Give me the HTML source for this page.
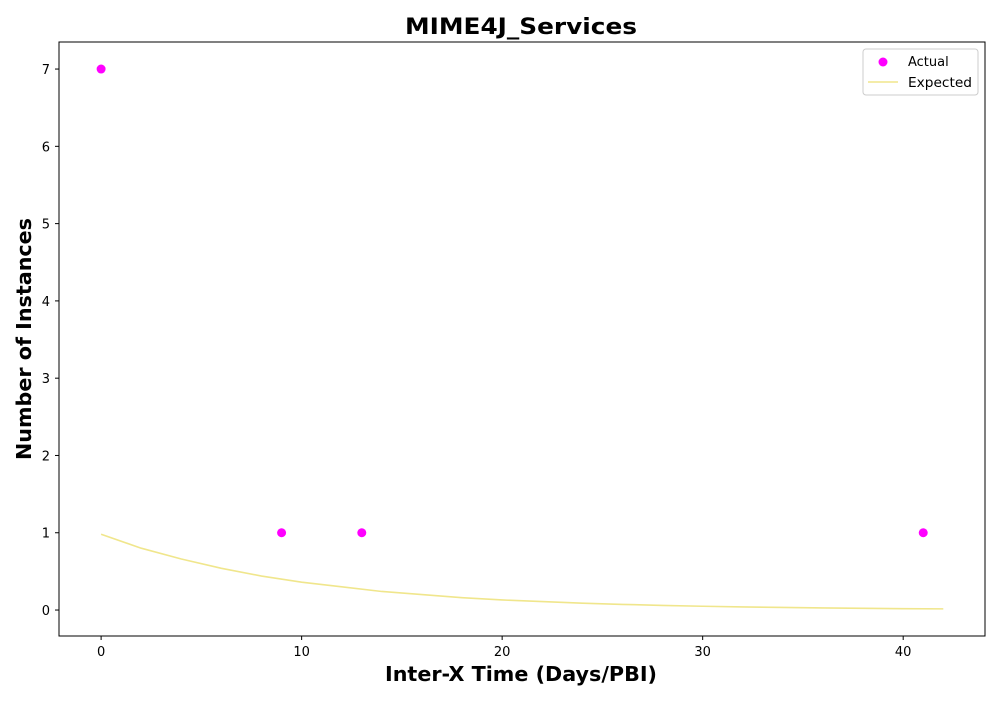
<!DOCTYPE html>
<html><head><meta charset="utf-8"><style>
body{margin:0;background:#fff;font-family:"DejaVu Sans","Liberation Sans",sans-serif;}
</style></head><body>
<svg id="chart" width="1000" height="700" xmlns="http://www.w3.org/2000/svg" font-family="DejaVu Sans, Liberation Sans, sans-serif"></svg>
<script>
const actualX=[0,9,13,41];
const actualY=[7,1,1,1];
const expectedX=[0,2,4,6,8,10,12,14,16,18,20,22,24,26,28,30,32,34,36,38,40,42];
const expectedY=[0.98,0.80,0.66,0.54,0.44,0.36,0.30,0.24,0.20,0.16,0.13,0.11,0.089,0.073,0.06,0.049,0.04,0.033,0.027,0.022,0.018,0.015];
const xTicks=[0,10,20,30,40];
const yTicks=[0,1,2,3,4,5,6,7];
const L=59,R=985,T=42,B=636;
const xMin=-2.1,xMax=44.08,yMin=-0.336,yMax=7.35;
const sx=v=>L+(v-xMin)/(xMax-xMin)*(R-L);
const sy=v=>B-(v-yMin)/(yMax-yMin)*(B-T);
const svg=document.getElementById('chart');
const NS='http://www.w3.org/2000/svg';
function mk(tag,attrs,parent){const e=document.createElementNS(NS,tag);for(const k in attrs)e.setAttribute(k,attrs[k]);(parent||svg).appendChild(e);return e;}
let t=mk('text',{x:521,y:34,'text-anchor':'middle','font-size':22,'font-weight':'bold',textLength:232,lengthAdjust:'spacingAndGlyphs'});t.textContent='MIME4J_Services';


t=mk('text',{x:521,y:681,'text-anchor':'middle','font-size':20,'font-weight':'bold',textLength:272,lengthAdjust:'spacingAndGlyphs'});t.textContent='Inter-X Time (Days/PBI)';


t=mk('text',{x:31,y:339,'text-anchor':'middle','font-size':20,'font-weight':'bold',textLength:242,lengthAdjust:'spacingAndGlyphs',transform:'rotate(-90 31 339)'});t.textContent='Number of Instances';


xTicks.forEach(v=>{const x=sx(v);mk('line',{x1:x,x2:x,y1:B,y2:B+4,stroke:'#000'});
 const tt=mk('text',{x:x,y:B+20,'text-anchor':'middle','font-size':13});tt.textContent=v;
 
 });
yTicks.forEach(v=>{const y=sy(v);mk('line',{x1:L-4,x2:L,y1:y,y2:y,stroke:'#000'});
 const tt=mk('text',{x:L-9,y:y+5,'text-anchor':'end','font-size':13});tt.textContent=v;
 
 });
const line=mk('polyline',{points:expectedX.map((x,i)=>sx(x)+','+sy(expectedY[i])).join(' '),fill:'none',stroke:'#f0e68c','stroke-width':1.6});


actualX.forEach((x,i)=>{const c=mk('circle',{cx:sx(x),cy:sy(actualY[i]),r:4.5,fill:'#ff00ff'});
 
 });
const frame=mk('rect',{x:L,y:T,width:R-L,height:B-T,fill:'none',stroke:'#000','stroke-width':1});


const lg=mk('g',{});


mk('rect',{x:863,y:49,width:115,height:46,rx:3,fill:'#fff',stroke:'#ccc'},lg);
mk('circle',{cx:883,cy:62,r:4.5,fill:'#ff00ff'},lg);
let lt=mk('text',{x:908,y:66,'font-size':13},lg);lt.textContent='Actual';


mk('line',{x1:868,x2:898,y1:82,y2:82,stroke:'#f0e68c','stroke-width':1.6},lg);
lt=mk('text',{x:908,y:87,'font-size':13,textLength:64,lengthAdjust:'spacingAndGlyphs'},lg);lt.textContent='Expected';


</script>
</body></html>
